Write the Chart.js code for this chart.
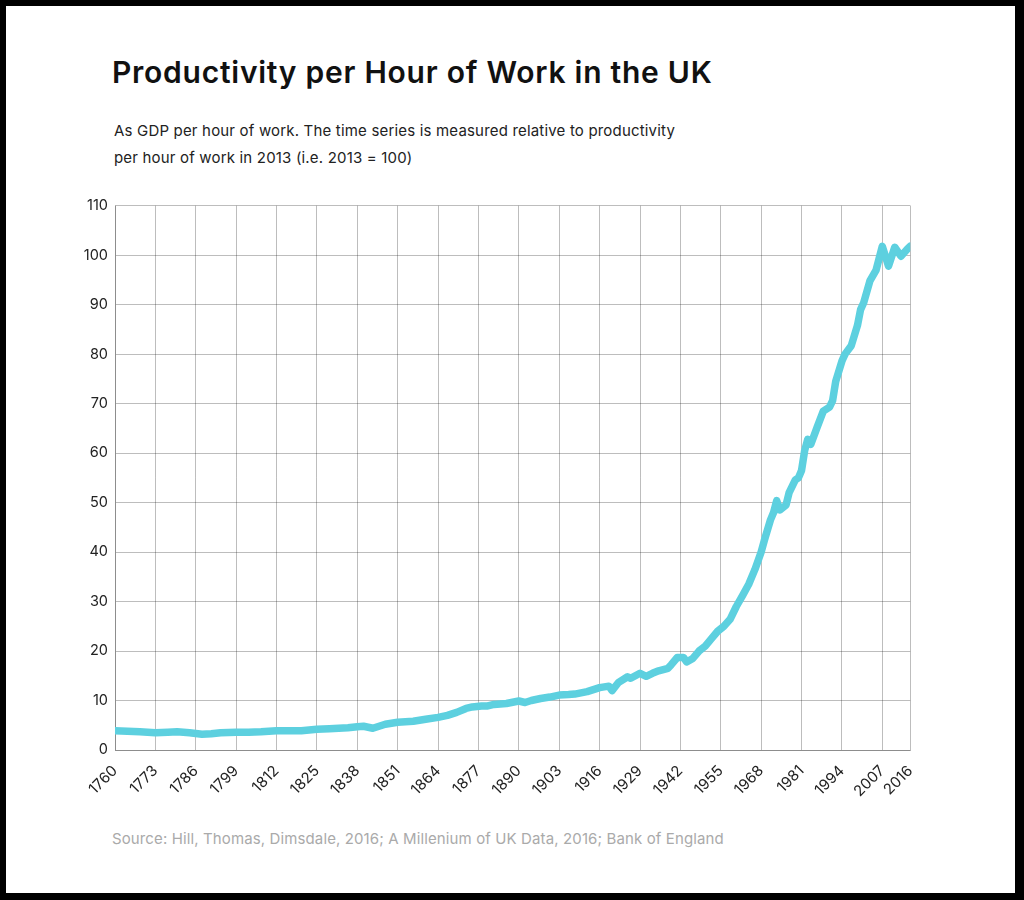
<!DOCTYPE html>
<html>
<head>
<meta charset="utf-8">
<script src="https://cdn.jsdelivr.net/npm/chart.js@4.4.1/dist/chart.umd.min.js"></script>
<style>
  html, body { margin: 0; padding: 0; background: #000; }
  #page { position: absolute; left: 6px; top: 6px; width: 1009px; height: 887px; background: #fff; }
  #title { position: absolute; left: 106px; top: 48px; font-family: Inter, sans-serif; font-weight: 600; font-size: 30px; letter-spacing: 0.75px; color: #111; white-space: nowrap; }
  #sub { position: absolute; left: 108px; top: 111px; font-family: Inter, sans-serif; font-size: 15px; letter-spacing: 0.18px; line-height: 27px; color: #222; white-space: nowrap; }
  #source { position: absolute; left: 106px; top: 823px; font-family: Inter, sans-serif; font-size: 15px; letter-spacing: 0.12px; color: #aaa; white-space: nowrap; }
  #wrap { position: absolute; left: 54px; top: 184px; width: 875px; height: 620px; }
</style>
</head>
<body>
<div id="page">
  <div id="title">Productivity per Hour of Work in the UK</div>
  <div id="sub">As GDP per hour of work. The time series is measured relative to productivity<br>per hour of work in 2013 (i.e. 2013 = 100)</div>
  <div id="wrap"><canvas id="myChart" width="875" height="620"></canvas></div>
  <div id="source">Source: Hill, Thomas, Dimsdale, 2016; A Millenium of UK Data, 2016; Bank of England</div>
</div>
<script>
// years and productivity values (2013 = 100)
var years = [1760,1764,1768,1773,1777,1780,1784,1788,1791,1794,1799,1803,1807,1812,1816,1820,1825,1829,1832,1835,1838,1840,1843,1847,1851,1856,1860,1864,1867,1870,1873,1875,1878,1880,1882,1886,1890,1892,1894,1897,1900,1903,1906,1908,1912,1916,1919,1920,1922,1925,1926,1929,1931,1933,1935,1938,1939,1941,1943,1944,1946,1948,1950,1952,1954,1956,1958,1960,1962,1964,1966,1968,1969,1971,1972,1973,1974,1976,1977,1979,1980,1981,1982,1983,1984,1986,1988,1990,1991,1992,1994,1995,1997,1999,2000,2001,2003,2005,2007,2009,2011,2013,2015,2016];
var productivity = [3.9,3.8,3.7,3.5,3.6,3.7,3.5,3.2,3.3,3.5,3.6,3.6,3.7,3.9,3.9,3.9,4.2,4.3,4.4,4.5,4.7,4.8,4.4,5.2,5.6,5.8,6.2,6.6,7.0,7.6,8.4,8.7,8.9,8.9,9.2,9.4,9.9,9.6,10.0,10.4,10.7,11.1,11.2,11.3,11.8,12.6,12.9,12.0,13.6,14.8,14.5,15.5,14.9,15.5,16.0,16.5,17.2,18.7,18.7,17.8,18.5,20.0,21.0,22.5,24.0,25.0,26.4,29.0,31.2,33.5,36.5,40.0,42.3,46.5,48.0,50.4,48.5,49.5,52.0,54.6,55.0,56.5,60.5,62.8,61.8,65.2,68.5,69.3,70.6,74.5,78.6,80.0,81.7,85.8,89.0,90.4,94.8,97.0,101.8,97.8,101.6,99.8,101.2,101.8];
var xTicks = [1760,1773,1786,1799,1812,1825,1838,1851,1864,1877,1890,1903,1916,1929,1942,1955,1968,1981,1994,2007,2016];
var yTicks = [0,10,20,30,40,50,60,70,80,90,100,110];

var points = [];
for (var i = 0; i < years.length; i++) {
  points.push({x: years[i], y: productivity[i]});
}

var gridColor = 'rgba(0,0,0,0.26)';

var ctx = document.getElementById('myChart').getContext('2d');
var myChart = new Chart(ctx, {
  type: 'line',
  data: {
    datasets: [{
      data: points,
      fill: false,
      borderColor: '#5dd0df',
      borderWidth: 7.5,
      borderJoinStyle: 'round',
      borderCapStyle: 'round',
      pointRadius: 0,
      tension: 0
    }]
  },
  options: {
    responsive: false,
    maintainAspectRatio: false,
    animation: false,
    layout: { padding: { top: 14.5, right: 10 } },
    plugins: { legend: { display: false }, tooltip: { enabled: false } },
    scales: {
      x: {
        type: 'linear',
        min: 1760,
        max: 2016,
        afterBuildTicks: function(scale) {
          scale.ticks = xTicks.map(function(v) { return {value: v}; });
        },
        afterFit: function(scale) { scale.height = 60; },
        grid: { color: gridColor, drawTicks: false },
        border: { color: gridColor },
        ticks: {
          autoSkip: false,
          maxRotation: 45,
          minRotation: 45,
          padding: 12,
          color: '#222',
          font: {family: 'Inter, sans-serif', size: 15},
          callback: function(v) { return String(v); }
        }
      },
      y: {
        min: 0,
        max: 110,
        afterBuildTicks: function(scale) {
          scale.ticks = yTicks.map(function(v) { return {value: v}; });
        },
        afterFit: function(scale) { scale.width = 55; },
        grid: { color: gridColor, drawTicks: false },
        border: { color: gridColor },
        ticks: { autoSkip: false, padding: 7, color: '#222', font: {family: 'Inter, sans-serif', size: 14.5} }
      }
    }
  }
});
</script>
</body>
</html>
